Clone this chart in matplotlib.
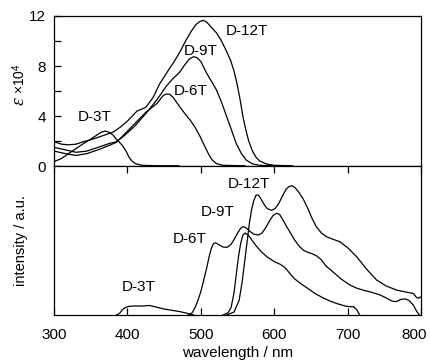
"""Absorption and emission spectra of D-nT oligomers."""

import matplotlib.pyplot as plt
import matplotlib.transforms as mtransforms
import numpy as np

plt.rcParams["font.family"] = ["Liberation Sans", "DejaVu Sans"]
plt.rcParams["mathtext.fontset"] = "custom"
plt.rcParams["mathtext.it"] = "Liberation Serif:italic"
plt.rcParams["mathtext.rm"] = "Liberation Sans"

# absorption (epsilon x 10^4)
abs_3t_wl = [300, 310, 320, 330, 340, 350, 360, 365, 370, 375, 380, 384, 389, 393, 398,
             402, 406, 411, 420, 440, 470]
abs_3t_eps = [0.35, 0.6, 1.0, 1.4, 1.8, 2.15, 2.55, 2.72, 2.8, 2.7, 2.5, 2.2, 1.9, 1.65,
              1.2, 0.72, 0.4, 0.19, 0.06, 0.03, 0.02]

abs_6t_wl = [300, 315, 330, 345, 360, 375, 385, 395, 410, 425, 440, 448, 452, 457, 462,
             471, 478, 485, 492, 499, 505, 510, 515, 521, 530, 560]
abs_6t_eps = [1.2, 1.0, 0.85, 1.0, 1.3, 1.65, 1.9, 2.5, 3.4, 4.3, 5.0, 5.6, 5.75, 5.75,
              5.5, 4.75, 4.2, 3.7, 3.1, 2.34, 1.6, 1.0, 0.5, 0.2, 0.06, 0.02]

abs_9t_wl = [300, 315, 330, 345, 360, 375, 385, 395, 410, 425, 440, 453, 462, 471, 478,
             484, 490, 495, 500, 508, 514, 521, 528, 535, 542, 548, 555, 562, 570, 580, 600]
abs_9t_eps = [1.5, 1.3, 1.1, 1.2, 1.5, 1.8, 1.95, 2.4, 3.2, 4.2, 5.3, 6.4, 7.0, 7.5, 8.1,
              8.55, 8.75, 8.65, 8.35, 7.4, 6.8, 6.1, 5.1, 3.95, 2.8, 1.8, 1.0, 0.46, 0.18,
              0.06, 0.02]

abs_12t_wl = [300, 310, 320, 330, 340, 350, 360, 370, 380, 390, 400, 413, 425, 435, 444,
              455, 465, 472, 480, 487, 493, 498, 503, 508, 514, 521, 527, 533, 540, 545,
              549, 553, 557, 561, 565, 570, 575, 580, 590, 600, 625]
abs_12t_eps = [1.95, 1.75, 1.7, 1.75, 1.95, 2.1, 2.3, 2.5, 2.7, 3.1, 3.6, 4.4, 4.7, 5.5,
               6.6, 7.6, 8.5, 9.2, 10.1, 10.8, 11.3, 11.55, 11.65, 11.5, 11.1, 10.66, 10.1,
               9.4, 8.5, 7.6, 6.6, 5.4, 4.0, 2.9, 2.0, 1.2, 0.7, 0.4, 0.15, 0.06, 0.02]

# emission (arbitrary units)
em_3t_wl = [385, 389, 393, 397, 402, 410, 420, 430, 440, 450, 460, 472, 480, 486, 490]
em_3t_int = [0.0, 1.0, 3.5, 5.0, 5.8, 6.1, 6.0, 6.4, 5.2, 4.0, 3.2, 2.2, 1.3, 0.5, 0.0]

em_6t_wl = [483, 488, 492, 496, 500, 504, 508, 511, 514, 517, 520, 524, 530, 536, 541, 546,
            551, 555, 558, 562, 567, 572, 578, 583, 588, 593, 598, 603, 607, 612, 617, 622,
            628, 634, 640, 646, 652, 658, 664, 670, 676, 683, 690, 697, 703, 712, 722, 732,
            744, 752, 760, 766, 772, 778, 783, 789, 793, 797]
em_6t_int = [0.0, 1.5, 5.0, 10.0, 16.0, 24.0, 32.0, 39.0, 44.5, 48.0, 48.5, 47.3, 45.6,
             45.5, 47.5, 51.5, 56.0, 58.8, 59.3, 58.3, 56.0, 54.3, 53.7, 55.0, 58.5, 63.0,
             66.8, 68.3, 67.5, 63.5, 59.0, 55.0, 50.0, 46.0, 43.3, 42.0, 41.0, 39.5, 37.0,
             33.0, 30.5, 27.5, 24.5, 22.0, 20.1, 18.0, 16.5, 15.3, 13.4, 11.5, 9.3, 9.0,
             10.5, 10.8, 9.8, 6.7, 3.0, 0.0]

em_9t_wl = [530, 537, 541, 545, 548, 551, 554, 557, 560, 564, 569, 575, 582, 590, 600, 608,
            614, 620, 627, 635, 645, 655, 665, 675, 686, 698, 708, 712, 716]
em_9t_int = [0.0, 1.5, 5.0, 15.0, 27.0, 39.0, 48.0, 53.5, 55.0, 53.8, 50.5, 46.5, 42.5,
             39.0, 35.8, 34.0, 32.0, 28.5, 24.5, 21.3, 18.0, 14.5, 11.8, 9.5, 7.5, 5.8,
             5.5, 3.5, 0.0]

em_12t_wl = [535, 545, 552, 556, 560, 563, 566, 569, 572, 575, 578, 581, 585, 590, 596, 601,
             606, 611, 616, 620, 624, 628, 633, 639, 645, 651, 657, 664, 671, 680, 689, 700,
             712, 725, 739, 752, 766, 778, 789, 793, 796, 800]
em_12t_int = [0.0, 2.0, 10.0, 22.0, 38.0, 50.0, 62.0, 71.0, 77.0, 80.5, 80.5, 78.5, 75.0,
              71.5, 70.3, 71.5, 75.0, 80.0, 84.5, 86.3, 86.8, 85.5, 82.5, 78.0, 72.0, 65.0,
              59.3, 55.0, 52.5, 50.8, 49.2, 45.0, 39.1, 31.0, 23.5, 19.5, 16.8, 15.5, 14.5,
              12.0, 11.2, 12.5]

labels = ["D-3T", "D-6T", "D-9T", "D-12T"]
abs_label_pos = [(356, 3.95), (486, 6.03), (500, 9.18), (562, 10.8)]
em_label_pos = [(415, 18.5), (484, 50.9), (523, 69.3), (565, 87.8)]

fig = plt.figure(figsize=(4.30, 3.61), dpi=100)
ax1 = fig.add_axes([0.1256, 0.540, 0.8544, 0.4157])
ax2 = fig.add_axes([0.1256, 0.1274, 0.8544, 0.4126])

line_kw = dict(color="black", linewidth=0.9)
for wl, eps in [(abs_3t_wl, abs_3t_eps), (abs_6t_wl, abs_6t_eps),
                (abs_9t_wl, abs_9t_eps), (abs_12t_wl, abs_12t_eps)]:
    ax1.plot(wl, eps, **line_kw)
for wl, inten in [(em_3t_wl, em_3t_int), (em_6t_wl, em_6t_int),
                  (em_9t_wl, em_9t_int), (em_12t_wl, em_12t_int)]:
    ax2.plot(wl, inten, **line_kw)

for lab, (x, y) in zip(labels, abs_label_pos):
    ax1.text(x, y, lab, ha="center", va="center", fontsize=11)
for lab, (x, y) in zip(labels, em_label_pos):
    ax2.text(x, y, lab, ha="center", va="center", fontsize=11)

for ax in (ax1, ax2):
    ax.set_xlim(300, 800)
    for sp in ax.spines.values():
        sp.set_linewidth(0.9)

ax1.set_ylim(0, 12)
ax1.set_yticks([0, 4, 8, 12])
ax1.set_yticks([2, 6, 10], minor=True)
ax1.tick_params(axis="y", which="both", direction="in", length=5, width=0.9,
                labelsize=11, pad=6)
ax1.tick_params(axis="x", which="both", bottom=False, labelbottom=False)

# y label of the top panel: large italic epsilon, smaller "x10^4"
ax1.text(-0.095, 0.43, r"$\varepsilon$", transform=ax1.transAxes, rotation=90,
         ha="center", va="center", fontsize=14)
ax1.text(-0.095, 0.58, r"$\times$10$^4$", transform=ax1.transAxes, rotation=90,
         ha="center", va="center", fontsize=10)

ax2.set_ylim(0, 100)
ax2.set_yticks([])
ax2.set_xticks(np.arange(300, 801, 100))
ax2.tick_params(axis="x", direction="in", length=5, width=0.9, top=True,
                labelsize=11, pad=9)
ax2.set_ylabel("intensity / a.u.", fontsize=10.5)
ax2.set_xlabel("wavelength / nm", fontsize=11, labelpad=3)
ax2.yaxis.set_label_coords(-0.072, 0.5)

# keep the last tick label inside the figure, as in the original
last = ax2.get_xticklabels()[-1]
last.set_transform(last.get_transform() + mtransforms.ScaledTranslation(
    -7 / 100, 0, fig.dpi_scale_trans))

fig.savefig("out.png", dpi=100)
plt.close(fig)
